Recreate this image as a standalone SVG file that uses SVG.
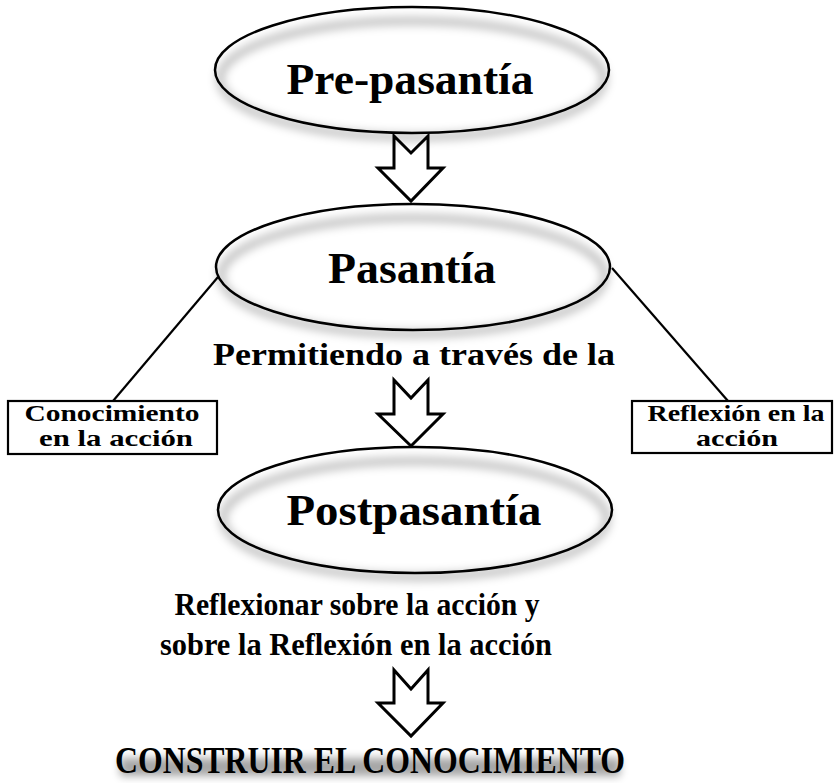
<svg xmlns="http://www.w3.org/2000/svg" width="834" height="783" viewBox="0 0 834 783">
<defs>
<filter id="sh" x="-20%" y="-30%" width="140%" height="160%"><feGaussianBlur stdDeviation="5"/></filter>
<filter id="tsh" x="-10%" y="-100%" width="120%" height="300%"><feGaussianBlur stdDeviation="4"/></filter>
</defs>
<style>
.ell{fill:none;stroke:#000;stroke-width:2.5}
.eshadow{fill:none;stroke:#000;stroke-opacity:0.28;stroke-width:7;filter:url(#sh)}
.t{font-family:"Liberation Serif","Times New Roman",serif;font-weight:bold;fill:#000;text-anchor:middle}
.big{font-size:45px}
.mid{font-size:32px}
.sm{font-size:24px}
.box{fill:#fff;stroke:#000;stroke-width:2.2}
.arr{fill:#fff;stroke:#000;stroke-width:3;stroke-linejoin:miter}
.ln{stroke:#000;stroke-width:2.2;fill:none}
</style>
<rect width="834" height="783" fill="#fff"/>
<g id="connectors">
<line class="ln" x1="218" y1="277" x2="113" y2="401"/>
<line class="ln" x1="612" y1="268" x2="728" y2="401"/>
<path class="arr" d="M394 136 L411 153 L428 136 L428 168 L443 168 L411 201 L378 168 L394 168 Z"/>
<path class="arr" d="M394 380 L411 398 L428 380 L428 414 L443 414 L411 446 L378 414 L394 414 Z"/>
<path class="arr" d="M394 670 L411 689 L428 670 L428 703 L443 703 L411 736 L378 703 L394 703 Z"/>
</g>
<g id="prepasantia">
<ellipse class="eshadow" cx="412" cy="79" rx="192" ry="58"/>
<ellipse class="ell" cx="412" cy="70" rx="197" ry="63"/>
<text class="t big" x="410" y="94" textLength="247" lengthAdjust="spacingAndGlyphs">Pre-pasantía</text>
</g>
<g id="pasantia">
<ellipse class="eshadow" cx="413" cy="276" rx="192" ry="58"/>
<ellipse class="ell" cx="413" cy="267" rx="197" ry="63"/>
<text class="t big" x="412" y="283" textLength="168" lengthAdjust="spacingAndGlyphs">Pasantía</text>
</g>
<g id="permitiendo">
<text class="t mid" x="414" y="365" font-size="33" textLength="402" lengthAdjust="spacingAndGlyphs">Permitiendo a través de la</text>
</g>
<g id="conocimiento">
<rect class="box" x="8" y="401" width="209" height="53"/>
<text class="t sm" x="112" y="421" textLength="175" lengthAdjust="spacingAndGlyphs">Conocimiento</text>
<text class="t sm" x="116" y="446" textLength="154" lengthAdjust="spacingAndGlyphs">en la acción</text>
</g>
<g id="reflexion">
<rect class="box" x="632" y="401" width="200" height="52"/>
<text class="t sm" x="736" y="421" textLength="177" lengthAdjust="spacingAndGlyphs">Reflexión en la</text>
<text class="t sm" x="737" y="446" textLength="82" lengthAdjust="spacingAndGlyphs">acción</text>
</g>
<g id="postpasantia">
<ellipse class="eshadow" cx="415" cy="519" rx="192" ry="58"/>
<ellipse class="ell" cx="415" cy="510" rx="197" ry="63"/>
<text class="t big" x="414" y="525" textLength="255" lengthAdjust="spacingAndGlyphs">Postpasantía</text>
</g>
<g id="reflexionar">
<text class="t mid" x="357" y="615" textLength="365" lengthAdjust="spacingAndGlyphs">Reflexionar sobre la acción y</text>
<text class="t mid" x="356" y="655" textLength="392" lengthAdjust="spacingAndGlyphs">sobre la Reflexión en la acción</text>
</g>
<g id="construir">
<rect x="120" y="758" width="500" height="18" fill="#000" opacity="0.35" filter="url(#tsh)"/>
<text class="t" x="370" y="773" font-size="38" textLength="510" lengthAdjust="spacingAndGlyphs">CONSTRUIR EL CONOCIMIENTO</text>
</g>
</svg>
